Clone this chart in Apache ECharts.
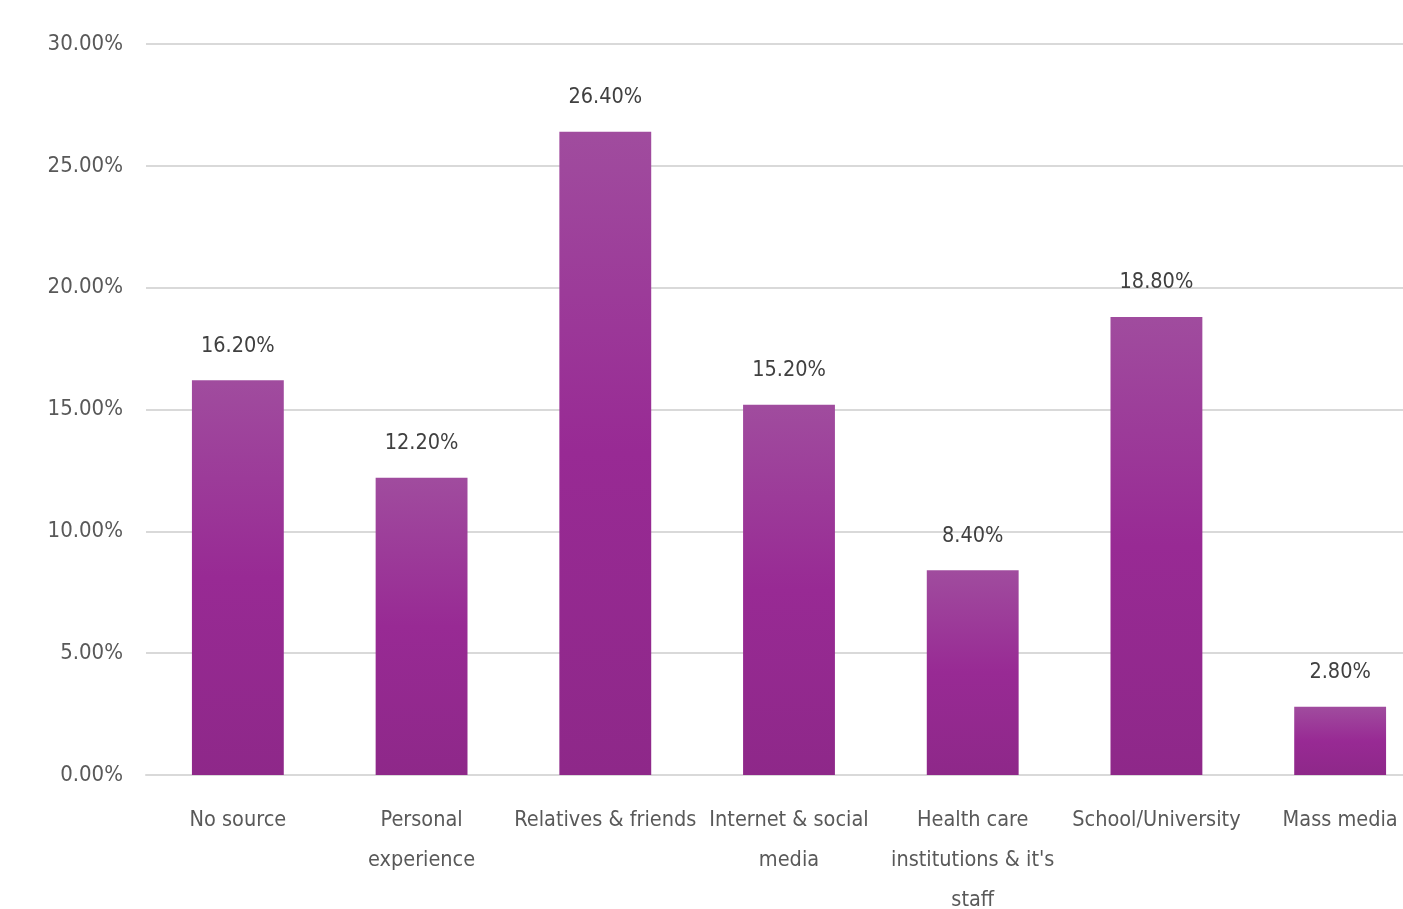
<!DOCTYPE html>
<html>
<head>
<meta charset="utf-8">
<script src="https://cdn.jsdelivr.net/npm/echarts@6/dist/echarts.min.js"></script>
<style>
html,body{margin:0;padding:0;background:#fff;}
#c{width:1403px;height:909px;}
</style>
</head>
<body>
<div id="c"></div>
<script>
const categories = ["No source", "Personal\nexperience", "Relatives & friends", "Internet & social\nmedia", "Health care\ninstitutions & it's\nstaff", "School/University", "Mass media"];
const values = [16.2, 12.2, 26.4, 15.2, 8.4, 18.8, 2.8];
const yTicks = { min: 0, max: 30, interval: 5 };

const FONT = "'Liberation Sans Narrow', 'DejaVu Sans Condensed', 'Roboto', sans-serif";
const chart = echarts.init(document.getElementById('c'), null, { renderer: 'canvas' });
chart.setOption({
  animation: false,
  backgroundColor: '#ffffff',
  grid: { left: 146, top: 44, width: 1286, height: 731, containLabel: false, outerBoundsMode: 'none' },
  xAxis: {
    type: 'category',
    data: categories,
    axisLine: { show: true, lineStyle: { color: '#d9d9d9', width: 2 } },
    axisTick: { show: false },
    axisLabel: {
      interval: 0, margin: 25, fontSize: 21.5, fontFamily: FONT, color: '#595959',
      lineHeight: 40, verticalAlign: 'top', hideOverlap: false
    }
  },
  yAxis: {
    type: 'value',
    min: yTicks.min, max: yTicks.max, interval: yTicks.interval,
    axisLine: { show: false },
    axisTick: { show: false },
    splitLine: { lineStyle: { color: '#d9d9d9', width: 2 } },
    axisLabel: {
      margin: 23, fontSize: 22, fontFamily: FONT, color: '#595959',
      formatter: v => v.toFixed(2) + '%'
    }
  },
  series: [{
    type: 'bar',
    data: values,
    barWidth: '50%',
    itemStyle: {
      color: new echarts.graphic.LinearGradient(0, 0, 0, 1, [
        { offset: 0, color: '#a04c9e' },
        { offset: 0.5, color: '#982a94' },
        { offset: 1, color: '#8e2889' }
      ])
    },
    label: {
      show: true, position: 'top', distance: 23,
      fontSize: 21.5, fontFamily: FONT, color: '#404040',
      formatter: p => p.value.toFixed(2) + '%'
    }
  }]
});
</script>
</body>
</html>
